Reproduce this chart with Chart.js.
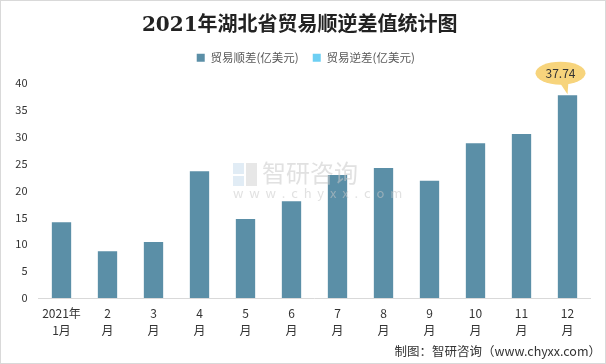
<!DOCTYPE html>
<html>
<head>
<meta charset="utf-8">
<script src="https://cdn.jsdelivr.net/npm/chart.js@4"></script>
<style>
  html, body { margin: 0; padding: 0; background: #fff; }
  #wrap { position: relative; width: 604px; height: 362px; border: 1px solid #d9d9d9; }
</style>
</head>
<body>
<div id="wrap"><canvas id="c" width="604" height="362"></canvas></div>
<script>
// months on the x axis (two-line labels)
const months = [
  ['2021年', '1月'], ['2', '月'], ['3', '月'], ['4', '月'], ['5', '月'], ['6', '月'],
  ['7', '月'], ['8', '月'], ['9', '月'], ['10', '月'], ['11', '月'], ['12', '月']
];
// trade surplus, 100 million USD
const surplus = [14.1, 8.7, 10.4, 23.6, 14.7, 18.0, 22.9, 24.2, 21.8, 28.8, 30.5, 37.74];
// trade deficit (none this year)
const deficit = [];
const yTicks = [0, 5, 10, 15, 20, 25, 30, 35, 40];

const cjk = '"Noto Sans CJK SC", "Noto Sans", sans-serif';

// bubble over the last bar + watermark + source line
const extras = {
  id: 'extras',
  beforeInit(chart) {
    // taller legend box so the plot starts lower, and nudge it right a bit
    const lg = chart.legend;
    const fit = lg.fit.bind(lg);
    lg.fit = function () { fit(); this.height = 45; };
    const draw = lg.draw.bind(lg);
    lg.draw = function () {
      chart.ctx.save();
      chart.ctx.translate(6, 0);
      draw();
      chart.ctx.restore();
    };
  },
  afterDatasetsDraw(chart) {
    const ctx = chart.ctx;
    ctx.save();
    ctx.globalAlpha = 0.55;
    // logo
    ctx.fillStyle = '#c9dcec';
    ctx.fillRect(232, 162, 11, 11);
    ctx.fillRect(232, 175, 11, 10);
    ctx.fillStyle = '#d4d4d4';
    ctx.fillRect(245, 162, 11, 23);
    ctx.fillStyle = '#c8c8c8';
    ctx.font = '24px ' + cjk;
    ctx.textBaseline = 'middle';
    ctx.fillText('智研咨询', 261, 172);
    ctx.font = '13px ' + cjk;
    ctx.fillText('w  w  w  .  c  h  y  x  x  .  c  o  m', 232, 192);
    ctx.restore();
  },
  afterDraw(chart) {
    const ctx = chart.ctx;
    const meta = chart.getDatasetMeta(0);
    const last = surplus.length - 1;
    const bar = meta.data[last];
    const x = bar.x, top = bar.y;
    const bx = x - 7, cy = top - 22;
    ctx.save();
    ctx.fillStyle = '#F7D47C';
    ctx.beginPath();
    ctx.ellipse(bx, cy, 25, 11.5, 0, 0, Math.PI * 2);
    ctx.fill();
    ctx.beginPath();
    ctx.moveTo(bx - 1, cy + 9);
    ctx.lineTo(x, top - 1);
    ctx.lineTo(bx + 8, cy + 8);
    ctx.fill();
    ctx.fillStyle = '#333';
    ctx.font = '12px ' + cjk;
    ctx.textAlign = 'center';
    ctx.textBaseline = 'middle';
    ctx.fillText(surplus[last].toFixed(2), bx, cy);
    ctx.fillStyle = '#333';
    ctx.font = '12.5px ' + cjk;
    ctx.textAlign = 'right';
    ctx.fillText('制图：智研咨询（www.chyxx.com）', 600, 350);
    ctx.restore();
  }
};

new Chart(document.getElementById('c'), {
  type: 'bar',
  data: {
    labels: months,
    datasets: [
      {
        label: '贸易顺差(亿美元)',
        data: surplus,
        backgroundColor: '#5B8FA7',
        borderWidth: 0
      },
      {
        label: '贸易逆差(亿美元)',
        data: deficit,
        backgroundColor: '#6DCFF3',
        borderWidth: 0
      }
    ]
  },
  options: {
    responsive: false,
    animation: false,
    grouped: false,
    categoryPercentage: 1,
    barPercentage: 0.42,
    layout: { padding: { left: 8, right: 14.5, top: 7, bottom: 25 } },
    plugins: {
      title: {
        display: true,
        text: '2021年湖北省贸易顺逆差值统计图',
        color: '#222',
        font: { family: '"DejaVu Serif", "Noto Sans CJK SC", serif', size: 20, weight: 'bold' },
        padding: { top: 6, bottom: 0 }
      },
      legend: {
        display: true,
        position: 'top',
        labels: {
          boxWidth: 8, boxHeight: 8, color: '#595959', padding: 14,
          font: { family: cjk, size: 11.5 }
        }
      },
      tooltip: { enabled: false }
    },
    scales: {
      x: {
        grid: { display: false, drawTicks: false },
        border: { display: true, color: '#d9d9d9' },
        afterFit(scale) { scale.height = 40; },
        ticks: {
          color: '#333', padding: 7, maxRotation: 0, autoSkip: false,
          font: { family: cjk, size: 12, lineHeight: 1.4 }
        }
      },
      y: {
        min: 0, max: 40,
        afterBuildTicks(scale) { scale.ticks = yTicks.map(v => ({ value: v })); },
        afterFit(scale) { scale.width = 29.5; },
        grid: { display: false, drawTicks: false },
        border: { display: false },
        ticks: { color: '#333', font: { family: cjk, size: 11 }, padding: 11 }
      }
    }
  },
  plugins: [extras]
});
</script>
</body>
</html>
